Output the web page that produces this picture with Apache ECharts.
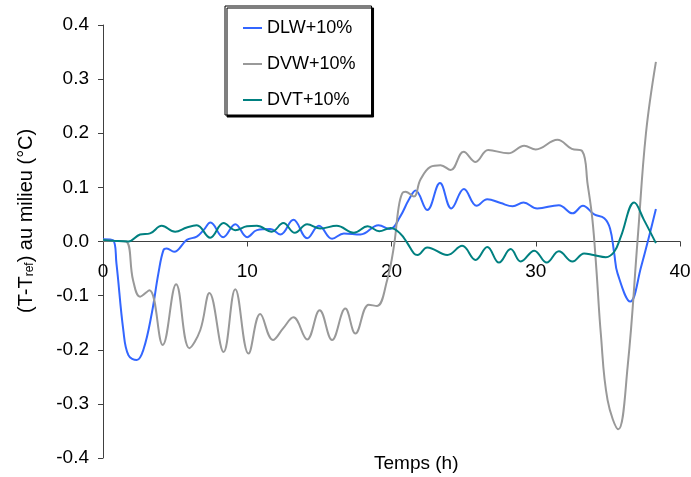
<!DOCTYPE html>
<html>
<head>
<meta charset="utf-8">
<script src="https://cdn.jsdelivr.net/npm/echarts@6/dist/echarts.min.js"></script>
<style>html,body{margin:0;padding:0;background:#fff}#c{width:691px;height:477px}</style>
</head>
<body>
<div id="c"></div>
<script>
const xTicks = [0, 10, 20, 30, 40];
const yTicks = [-0.4, -0.3, -0.2, -0.1, 0.0, 0.1, 0.2, 0.3, 0.4];
const seriesNames = ['DLW+10%', 'DVW+10%', 'DVT+10%'];

const dlw = [[0,0.004],[0.7,0.002],[0.93,-0.040],[1.41,-0.164],[1.76,-0.210],[2.34,-0.219],[2.8,-0.200],[3.38,-0.133],[3.84,-0.059],[4.19,-0.016],[4.42,-0.013],[4.93,-0.019],[5.81,0.003],[6.5,0.009],[6.97,0.021],[7.45,0.035],[8.33,0.008],[9.17,0.032],[10.0,0.008],[10.67,0.021],[11.6,0.023],[12.3,0.013],[13.2,0.040],[14.15,0.006],[14.97,0.029],[15.88,0.005],[16.7,0.015],[17.85,0.013],[19.1,0.030],[19.9,0.023],[20.6,0.046],[21.2,0.077],[21.67,0.094],[22.48,0.058],[23.36,0.108],[24.15,0.061],[25.02,0.097],[25.9,0.066],[26.64,0.078],[27.57,0.071],[28.4,0.065],[29.15,0.072],[30.1,0.061],[31.6,0.067],[32.55,0.052],[33.27,0.066],[34.05,0.050],[34.75,0.043],[35.15,0.024],[35.44,-0.022],[35.67,-0.059],[36.55,-0.111],[37.3,-0.047],[38.33,0.060]];

const dvw = [[0,0.002],[0.8,0.001],[1.6,0.0],[2.08,-0.071],[2.57,-0.102],[3.22,-0.090],[4.14,-0.191],[5.07,-0.079],[5.99,-0.197],[6.74,-0.164],[7.38,-0.095],[8.36,-0.204],[9.17,-0.088],[10.09,-0.207],[10.9,-0.134],[11.78,-0.182],[12.5,-0.160],[13.2,-0.140],[14.15,-0.181],[15.02,-0.127],[15.88,-0.182],[16.8,-0.124],[17.5,-0.170],[18.42,-0.117],[19.0,-0.119],[19.7,-0.071],[20.16,-0.010],[20.5,0.064],[20.74,0.089],[20.97,0.092],[21.55,0.083],[22.0,0.114],[22.7,0.138],[23.4,0.141],[24.1,0.132],[25.0,0.166],[25.83,0.147],[26.7,0.169],[28.1,0.163],[29.2,0.177],[30.0,0.170],[31.5,0.188],[32.5,0.171],[33.22,0.167],[33.6,0.105],[33.93,0.040],[34.2,-0.050],[34.51,-0.170],[34.98,-0.293],[35.72,-0.347],[36.37,-0.231],[37.06,0.003],[37.64,0.200],[38.33,0.332]];

const dvt = [[0,0.003],[0.9,0.001],[1.76,0.0],[2.57,0.013],[3.26,0.015],[4.07,0.029],[5.0,0.018],[5.81,0.026],[6.5,0.030],[7.43,0.007],[8.36,0.034],[9.17,0.021],[9.98,0.028],[10.67,0.029],[11.7,0.018],[12.5,0.034],[13.3,0.016],[14.15,0.032],[15.07,0.024],[16.2,0.029],[17.4,0.016],[18.35,0.028],[19.15,0.019],[19.93,0.025],[20.6,0.015],[21.1,-0.003],[21.55,-0.022],[21.8,-0.025],[22.48,-0.011],[23.87,-0.025],[24.9,-0.008],[25.83,-0.034],[26.64,-0.010],[27.45,-0.039],[28.26,-0.014],[28.96,-0.037],[29.9,-0.017],[30.76,-0.039],[31.6,-0.018],[32.55,-0.037],[33.35,-0.022],[34.0,-0.025],[34.86,-0.029],[35.44,-0.019],[35.9,0.009],[36.83,0.072],[37.5,0.040],[38.33,-0.003]];

const FONT = '"Liberation Sans", Arial, sans-serif';
const AXC = '#404040';
const GRID_TOP = 25, GRID_BOTTOM = 19, H = 477;
const plotH = H - GRID_TOP - GRID_BOTTOM;
const yMin = yTicks[0], yMax = yTicks[yTicks.length - 1];
// distance from bottom edge of plot to the y=0 line
const zeroOffset = plotH * (0 - yMin) / (yMax - yMin);

const chart = echarts.init(document.getElementById('c'), null, {renderer: 'canvas'});
const mkLine = (name, data, color) => ({
  name, type: 'line', data, showSymbol: false, smooth: 0.4,
  lineStyle: {color, width: 2}, itemStyle: {color}, animation: false
});
chart.setOption({
  animation: false,
  grid: {left: 103, right: 11, top: GRID_TOP, bottom: GRID_BOTTOM, containLabel: false, outerBoundsMode: 'none'},
  xAxis: {
    type: 'value', min: xTicks[0], max: xTicks[xTicks.length - 1], interval: 10,
    position: 'bottom', offset: -zeroOffset,
    axisLine: {onZero: false, lineStyle: {color: AXC, width: 1}},
    axisTick: {show: true, inside: false, length: 5, lineStyle: {color: AXC}},
    axisLabel: {margin: 21, color: '#000', fontSize: 19, fontFamily: FONT, showMinLabel: true, showMaxLabel: true, hideOverlap: false},
    splitLine: {show: false}
  },
  yAxis: {
    type: 'value', min: yMin, max: yMax, interval: 0.1,
    axisLine: {show: true, onZero: false, lineStyle: {color: AXC, width: 1}},
    axisTick: {show: true, inside: false, length: 5, lineStyle: {color: AXC}},
    axisLabel: {margin: 14, color: '#000', fontSize: 19, fontFamily: FONT, formatter: v => v.toFixed(1)},
    splitLine: {show: false}
  },
  legend: {
    orient: 'vertical', left: 225, top: 6,
    data: seriesNames,
    icon: 'rect', itemWidth: 19, itemHeight: 2, itemGap: 16,
    padding: [12, 16, 5, 18],
    backgroundColor: '#fff', borderColor: '#000', borderWidth: 1,
    shadowColor: '#000', shadowOffsetX: 2, shadowOffsetY: 2, shadowBlur: 0,
    textStyle: {color: '#000', fontSize: 18, fontFamily: FONT, lineHeight: 20},
    selectedMode: false
  },
  graphic: [
    {type: 'text', left: 374, top: 454, style: {text: 'Temps (h)', font: '19px ' + FONT, fill: '#000'}},
    {type: 'text', x: 12, y: 313, rotation: Math.PI / 2,
      style: {
        text: '{n|(T-T}{s|ref}{n|) au milieu (°C)}',
        fill: '#000',
        rich: {
          n: {fontSize: 20, fontFamily: FONT, fill: '#000', verticalAlign: 'bottom', lineHeight: 24},
          s: {fontSize: 12, fontFamily: FONT, fill: '#000', verticalAlign: 'bottom', lineHeight: 16}
        }
      }}
  ],
  series: [
    mkLine(seriesNames[0], dlw, '#3366FF'),
    mkLine(seriesNames[1], dvw, '#999999'),
    mkLine(seriesNames[2], dvt, '#008080')
  ]
});
</script>
</body>
</html>
